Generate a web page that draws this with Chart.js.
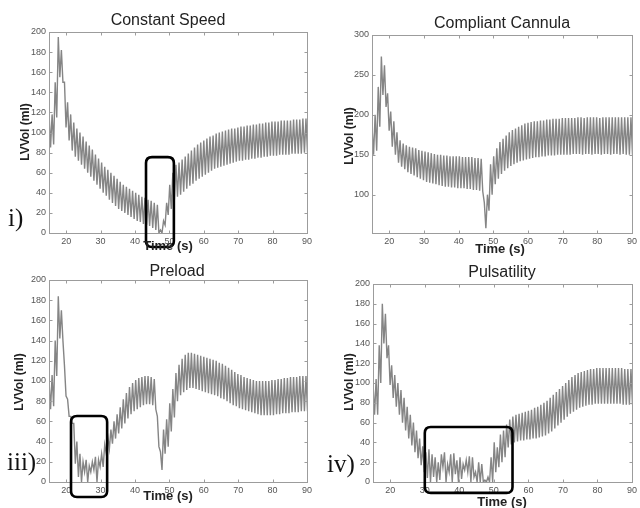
<!DOCTYPE html>
<html><head><meta charset="utf-8">
<script src="https://cdn.jsdelivr.net/npm/chart.js@4.4.0/dist/chart.umd.min.js"></script>
<style>
html,body{margin:0;padding:0;background:#fff;}
#wrap{position:relative;width:640px;height:508px;overflow:hidden;background:#fff;}
canvas{position:absolute;left:0;top:0;}
.t{position:absolute;font-family:"Liberation Sans",Arial,sans-serif;color:#222;white-space:nowrap;transform:translate(-50%,-50%);line-height:1;}
.ttl{font-size:16px;}
.xl{font-size:13px;font-weight:bold;}
.yl{font-size:12px;font-weight:bold;transform:translate(-50%,-50%) rotate(-90deg);}
.rn{position:absolute;font-family:"Liberation Serif","Times New Roman",serif;font-size:25px;color:#111;line-height:1;white-space:nowrap;}
</style></head>
<body>
<div id="wrap">
<canvas id="c1" width="640" height="508"></canvas>
<canvas id="c2" width="640" height="508"></canvas>
<canvas id="c3" width="640" height="508"></canvas>
<canvas id="c4" width="640" height="508"></canvas>
<div class="t ttl" style="left:168px;top:20px;">Constant Speed</div>
<div class="t ttl" style="left:502px;top:23px;">Compliant Cannula</div>
<div class="t ttl" style="left:177px;top:271px;">Preload</div>
<div class="t ttl" style="left:502px;top:272px;">Pulsatility</div>
<div class="t xl" style="left:168px;top:245px;">Time (s)</div>
<div class="t xl" style="left:500px;top:248px;">Time (s)</div>
<div class="t xl" style="left:168px;top:495px;">Time (s)</div>
<div class="t xl" style="left:502px;top:501px;">Time (s)</div>
<div class="t yl" style="left:25px;top:132px;">LVVol (ml)</div>
<div class="t yl" style="left:349px;top:136px;">LVVol (ml)</div>
<div class="t yl" style="left:19px;top:382px;">LVVol (ml)</div>
<div class="t yl" style="left:349px;top:382px;">LVVol (ml)</div>
<div class="rn" style="left:8px;top:205px;">i)</div>
<div class="rn" style="left:7px;top:449px;">iii)</div>
<div class="rn" style="left:327px;top:451px;">iv)</div>
</div>
<script>
// ---- data (one value pair per heart beat) ----
const beatTimes = [15.0,15.9,16.8,17.7,18.6,19.5,20.4,21.3,22.2,23.1,24.0,24.9,25.8,26.7,27.6,28.5,29.4,30.3,31.2,32.1,
  33.0,33.9,34.8,35.7,36.6,37.5,38.4,39.3,40.2,41.1,42.0,42.9,43.8,44.7,45.6,46.5,47.4,48.3,49.2,50.1,
  51.0,51.9,52.8,53.7,54.6,55.5,56.4,57.3,58.2,59.1,60.0,60.9,61.8,62.7,63.6,64.5,65.4,66.3,67.2,68.1,
  69.0,69.9,70.8,71.7,72.6,73.5,74.4,75.3,76.2,77.1,78.0,78.9,79.8,80.7,81.6,82.5,83.4,84.3,85.2,86.1,
  87.0,87.9,88.8,89.7];
const xTickVals = [20,30,40,50,60,70,80,90];
const yTicks200 = [0,20,40,60,80,100,120,140,160,180,200];
const yTicks300 = [100,150,200,250,300];

const constantSpeedHigh = [120,118,150,195,182,150,130,118,110,104,
  100,96,91,87,83,78,74,70,66,63,
  60,57,54,51,48,46,44,42,40,38,
  36,35,33,32,30,28,3,12,30,48,
  60,68,70,73,76,79,82,85,88,90,
  92,94,96,97,99,100,101,102,103,104,
  104,105,106,106,107,107,108,108,109,109,
  110,110,111,111,111,112,112,112,112,113,
  113,113,114,114];
const constantSpeedLow = [85,88,115,155,150,105,92,82,76,72,
  68,64,60,56,52,48,44,40,37,33,
  30,27,24,22,20,18,16,14,12,11,
  9,8,7,5,3,0,0,8,18,24,
  33,36,38,41,44,47,49,52,54,56,
  58,60,62,64,65,66,67,68,69,70,
  71,72,72,73,73,74,74,75,75,76,
  76,77,77,77,78,78,78,78,79,79,
  79,79,80,80];

const compliantHigh = [185,200,235,273,262,227,204,192,178,168,
  164,162,160,159,158,156,155,154,153,152,
  151,150,150,149,149,148,148,148,148,147,
  147,147,147,146,146,145,90,100,138,148,
  158,166,170,174,178,181,183,185,187,189,
  190,191,192,192,193,193,194,194,195,195,
  195,196,196,196,196,196,197,197,196,197,
  197,197,197,196,197,197,197,197,197,197,
  197,197,197,197];
const compliantLow = [150,155,185,225,210,180,160,150,140,135,
  132,128,126,124,122,120,118,116,115,114,
  113,112,111,110,110,109,109,108,108,108,
  107,107,106,106,105,104,58,80,100,113,
  120,126,130,133,136,138,140,142,143,144,
  145,146,147,147,148,148,149,149,149,150,
  150,150,150,150,151,151,151,150,151,151,
  150,151,151,150,151,151,150,151,151,150,
  151,150,150,150];

const preloadHigh = [100,106,140,184,170,115,82,65,58,40,
  28,20,22,16,20,25,22,28,37,45,
  52,60,67,74,82,88,94,98,101,103,
  104,105,105,104,102,65,30,52,62,78,
  92,108,116,122,126,128,128,127,126,125,
  124,123,122,121,120,118,117,115,113,111,
  109,107,106,104,103,102,101,100,100,100,
  100,100,101,101,102,102,103,103,104,104,
  104,105,105,105];
const preloadLow = [72,75,105,142,140,85,65,58,18,5,
  0,10,0,10,12,0,15,15,28,33,
  38,43,48,53,58,63,67,70,72,74,
  76,77,77,76,72,35,12,28,35,50,
  64,80,86,89,91,93,93,92,91,90,
  89,88,87,86,85,83,82,80,78,76,
  75,73,72,71,70,69,68,67,66,66,
  66,66,66,67,67,68,68,68,69,69,
  69,70,70,70];

const pulsatilityHigh = [100,104,138,180,170,138,118,108,100,93,
  85,76,68,60,52,44,36,30,33,28,
  25,20,28,30,18,28,29,22,25,18,
  22,26,25,10,20,18,2,5,25,40,
  35,48,52,58,63,66,68,69,70,71,
  72,73,75,76,78,80,82,85,88,91,
  94,97,100,103,106,108,110,111,112,113,
  114,114,115,115,115,115,115,115,115,115,
  115,114,114,114];
const pulsatilityLow = [68,68,100,140,125,98,85,76,68,60,
  52,44,37,30,24,17,10,4,0,5,
  0,2,15,0,10,0,8,0,3,12,
  10,0,5,0,0,0,0,0,0,10,
  15,20,25,35,38,40,41,42,42,43,
  43,44,44,45,46,47,49,51,54,57,
  60,63,66,69,71,73,75,76,77,78,
  78,79,79,79,79,79,79,79,79,79,
  78,78,78,78];

// ---- helpers ----
function beatSeries(hi, lo){
  const pts = [];
  for (let i = 0; i < beatTimes.length; i++){
    pts.push({x: beatTimes[i], y: hi[i]});
    pts.push({x: beatTimes[i] + 0.45, y: lo[i]});
  }
  return pts;
}

const YW = 30, XH = 14;
const tickFont = {family: '"Liberation Sans", Arial, sans-serif', size: 9};

const framePlugin = {
  id: 'frame',
  afterDraw(chart, args, opts){
    const {ctx, chartArea: a} = chart;
    const x = chart.scales.x, y = chart.scales.y;
    ctx.save();
    ctx.strokeStyle = '#9c9c9c';
    ctx.lineWidth = 1;
    const L = Math.round(a.left) + 0.5, T = Math.round(a.top) + 0.5;
    const R = Math.round(a.right) + 0.5, B = Math.round(a.bottom) + 0.5;
    ctx.strokeRect(L, T, R - L, B - T);
    ctx.beginPath();
    xTickVals.forEach(v => {
      const px = Math.round(x.getPixelForValue(v)) + 0.5;
      ctx.moveTo(px, B); ctx.lineTo(px, B - 3);
      ctx.moveTo(px, T); ctx.lineTo(px, T + 3);
    });
    opts.yTicks.forEach(v => {
      const py = Math.round(y.getPixelForValue(v)) + 0.5;
      ctx.moveTo(L, py); ctx.lineTo(L + 3, py);
      ctx.moveTo(R, py); ctx.lineTo(R - 3, py);
    });
    ctx.stroke();
    const b = opts.box;
    if (b){
      const x0 = x.getPixelForValue(b.x0), x1 = x.getPixelForValue(b.x1);
      const y0 = y.getPixelForValue(b.y1), y1 = y.getPixelForValue(b.y0);
      const r = 6;
      ctx.strokeStyle = '#000';
      ctx.lineWidth = 2.6;
      ctx.beginPath();
      ctx.moveTo(x0 + r, y0);
      ctx.lineTo(x1 - r, y0); ctx.quadraticCurveTo(x1, y0, x1, y0 + r);
      ctx.lineTo(x1, y1 - r); ctx.quadraticCurveTo(x1, y1, x1 - r, y1);
      ctx.lineTo(x0 + r, y1); ctx.quadraticCurveTo(x0, y1, x0, y1 - r);
      ctx.lineTo(x0, y0 + r); ctx.quadraticCurveTo(x0, y0, x0 + r, y0);
      ctx.closePath();
      ctx.stroke();
    }
    ctx.restore();
  }
};

const panels = [
  {id: 'c1', hi: constantSpeedHigh, lo: constantSpeedLow, area: {l: 49, r: 307, t: 32, b: 233},
   yMin: 0, yMax: 200, yTicks: yTicks200, box: {x0: 43.2, x1: 51.3, y0: -14, y1: 75.5}},
  {id: 'c2', hi: compliantHigh, lo: compliantLow, area: {l: 372, r: 633, t: 35, b: 233},
   yMin: 52, yMax: 300, yTicks: yTicks300, box: null},
  {id: 'c3', hi: preloadHigh, lo: preloadLow, area: {l: 49, r: 307, t: 280, b: 482},
   yMin: 0, yMax: 200, yTicks: yTicks200, box: {x0: 21.4, x1: 31.9, y0: -14.9, y1: 65.3}},
  {id: 'c4', hi: pulsatilityHigh, lo: pulsatilityLow, area: {l: 373, r: 633, t: 284, b: 482},
   yMin: 0, yMax: 200, yTicks: yTicks200, box: {x0: 30.0, x1: 55.4, y0: -11, y1: 55.6}}
];

panels.forEach(p => {
  const a = p.area;
  new Chart(document.getElementById(p.id), {
    type: 'line',
    data: {datasets: [{
      data: beatSeries(p.hi, p.lo),
      borderColor: '#858585', borderWidth: 1.4, pointRadius: 0, tension: 0, fill: false
    }]},
    options: {
      responsive: false, animation: false, devicePixelRatio: 1,
      events: [],
      layout: {padding: {left: a.l - YW, right: 640 - a.r, top: a.t, bottom: 508 - a.b - XH}},
      plugins: {legend: {display: false}, tooltip: {enabled: false}, title: {display: false},
        frame: {yTicks: p.yTicks, box: p.box}},
      scales: {
        x: {type: 'linear', min: 15, max: 90,
          afterBuildTicks: s => { s.ticks = xTickVals.map(v => ({value: v})); },
          afterFit: s => { s.height = XH; },
          grid: {display: false, drawTicks: false}, border: {display: false},
          ticks: {font: tickFont, color: '#555', padding: 3, maxRotation: 0, autoSkip: false}},
        y: {type: 'linear', min: p.yMin, max: p.yMax,
          afterBuildTicks: s => { s.ticks = p.yTicks.map(v => ({value: v})); },
          afterFit: s => { s.width = YW; },
          grid: {display: false, drawTicks: false}, border: {display: false},
          ticks: {font: tickFont, color: '#555', padding: 3, autoSkip: false}}
      }
    },
    plugins: [framePlugin]
  });
});
</script>
</body></html>
